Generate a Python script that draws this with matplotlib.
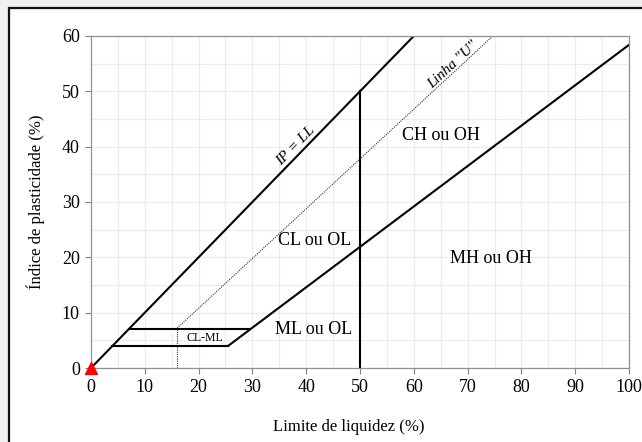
import matplotlib
matplotlib.use("Agg")
import matplotlib.pyplot as plt
from matplotlib.patches import Rectangle
from matplotlib.ticker import MultipleLocator
import numpy as np

# linhas da carta de plasticidade (LL, IP)
ll_ip = [0, 60]              # IP = LL
ll_a = [25.5, 100]           # linha "A": IP = 0.73(LL-20)
ip_a = [4.0, 58.4]
ll_u = [16, 74.7]            # linha "U": IP = 0.9(LL-8)
ip_u = [7.2, 60]
ll_h7 = [7, 29.6]            # limites da zona CL-ML
ll_h4 = [4, 25.5]
lim_cl_ml = [4, 7]
ll_vert = 50

rotulos = ["CH ou OH", "CL ou OL", "MH ou OH", "ML ou OL"]
pos_rotulos = [(65.1, 42.0), (41.5, 23.0), (74.4, 19.8), (41.3, 6.9)]

plt.rcParams['font.family'] = ['Liberation Serif', 'DejaVu Serif']

fig = plt.figure(figsize=(6.42, 4.42), dpi=100)
fig.patch.set_facecolor('#efefef')
fig.patches.append(Rectangle((0.014, -0.2), 1.2, 0.982 + 0.2, transform=fig.transFigure,
                             facecolor='white', edgecolor='#111111', linewidth=1.6, zorder=-1))

ax = fig.add_axes([0.1417, 0.1674, 0.8381, 0.7512])
ax.set_facecolor('white')

ax.plot(ll_ip, ll_ip, color='black', lw=1.5)
ax.plot(ll_a, ip_a, color='black', lw=1.5)
ax.plot(ll_u, ip_u, color='#333333', lw=0.8, ls=(0, (1, 1)))
ax.plot([ll_u[0], ll_u[0]], [0, ip_u[0]], color='#333333', lw=0.8, ls=(0, (1, 1)))
ax.plot(ll_h7, [lim_cl_ml[1]] * 2, color='black', lw=1.5)
ax.plot(ll_h4, [lim_cl_ml[0]] * 2, color='black', lw=1.5)
ax.plot([ll_vert, ll_vert], [0, ll_vert], color='black', lw=1.5)
ax.plot([0], [0], marker='^', color='red', ms=8, clip_on=False, zorder=5)

for txt, (x, y) in zip(rotulos, pos_rotulos):
    ax.text(x, y, txt, fontsize=13, ha='center', va='center')
ax.text(21.1, 5.4, "CL-ML", fontsize=8.5, ha='center', va='center')

ax.text(39.0, 39.3, "IP = LL", fontsize=11, style='italic', rotation=45.8,
        rotation_mode='anchor', ha='center', va='bottom')
ax.text(68.2, 53.9, 'Linha "U"', fontsize=11, style='italic', rotation=42.8,
        rotation_mode='anchor', ha='center', va='bottom')

ax.set_xlim(0, 100)
ax.set_ylim(0, 60)
ax.xaxis.set_major_locator(MultipleLocator(10))
ax.yaxis.set_major_locator(MultipleLocator(10))
ax.xaxis.set_minor_locator(MultipleLocator(5))
ax.yaxis.set_minor_locator(MultipleLocator(5))
ax.grid(which='both', color='#ececec', lw=0.8)
ax.set_axisbelow(True)
ax.tick_params(which='major', direction='out', length=4, color='#808080', labelsize=13, pad=4)
ax.tick_params(which='minor', length=0)
for s in ax.spines.values():
    s.set_color('#909090')
    s.set_linewidth(0.9)

ax.set_xlabel("Limite de liquidez (%)", fontsize=12, labelpad=15)
ax.xaxis.set_label_coords(0.48, -0.155)
ax.set_ylabel("Índice de plasticidade (%)", fontsize=12, labelpad=12)

fig.savefig("out.png", dpi=100, facecolor=fig.get_facecolor())
